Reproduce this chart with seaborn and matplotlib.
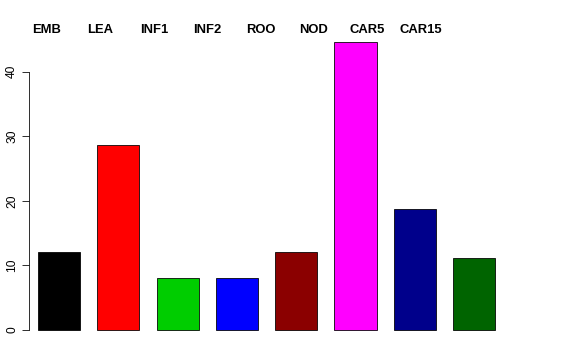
import matplotlib
matplotlib.use("Agg")
import matplotlib.pyplot as plt
import seaborn as sns
import pandas as pd

# values
categories = ["EMB", "LEA", "INF1", "INF2", "ROO", "NOD", "CAR5", "CAR15"]
values = [12.1, 28.7, 8.1, 8.1, 12.1, 44.6, 18.8, 11.2]
colors = ["#000000", "#FF0000", "#00CD00", "#0000FF", "#8B0000", "#FF00FF", "#00008B", "#006400"]
yticks = [0, 10, 20, 30, 40]

plt.rcParams["font.family"] = ["Liberation Sans", "DejaVu Sans"]

df = pd.DataFrame({"tissue": categories, "value": values})

fig = plt.figure(figsize=(8, 5), dpi=72)
ax = fig.add_axes([29 / 576, (360 - 341.5) / 360, (530 - 29) / 576, (341.5 - 31) / 360])

sns.barplot(data=df, x="tissue", y="value", hue="tissue", palette=colors,
            legend=False, width=0.71, edgecolor="black", linewidth=0.8,
            saturation=1, ax=ax)

ax.set_xlim(-0.506, (530 - 59) / 59.3)
ax.set_ylim(-1.78, 46.3)
ax.set_xticks([])
ax.set_yticks(yticks)
ax.set_yticklabels([str(t) for t in yticks], rotation=90, va="center", fontsize=12)
ax.tick_params(axis="y", length=7, width=0.8, pad=4, colors="black")
ax.set_xlabel("")
ax.set_ylabel("")
for s in ["top", "right", "bottom"]:
    ax.spines[s].set_visible(False)
ax.spines["left"].set_bounds(0, 40)
ax.spines["left"].set_linewidth(0.8)

# tissue names along the top
for i, name in enumerate(categories):
    fig.text((47 + 53.4 * i) / 576, 1 - 30 / 360, name, ha="center", va="center",
             fontsize=13, fontweight="bold")

fig.savefig("out.png", dpi=72)
